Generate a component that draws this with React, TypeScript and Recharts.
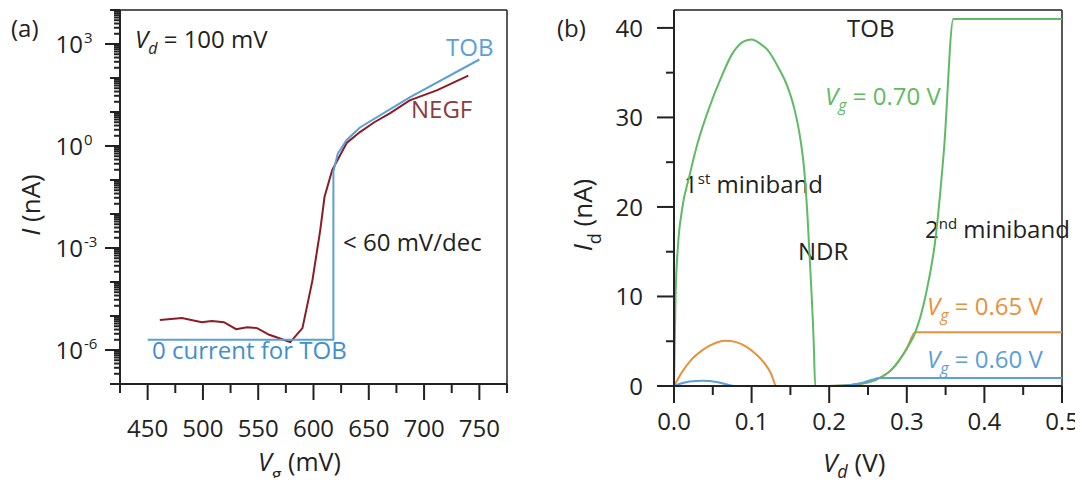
import React from 'react';
import { LineChart, Line, XAxis, YAxis, ReferenceLine } from 'recharts';

const FONT = '"Open Sans", "DejaVu Sans", sans-serif';
const INK = '#222222';
const TOB_BLUE = '#5aa0d8';
const NEGF_RED = '#8b1c24';
const GREEN = '#5fba64';
const ORANGE = '#e8913a';
const BLUE = '#5b9ed8';

// ── (a) transfer curve, log scale ────────────────────────────────
const VG_NEGF = [461, 481, 499, 508, 519, 530, 540, 549, 560, 571, 579, 590, 599, 606, 610, 617, 630, 642, 655, 669, 687, 712, 740];
const I_NEGF = [7.6e-6, 8.7e-6, 6.6e-6, 7.1e-6, 6.6e-6, 4.1e-6, 4.7e-6, 4.4e-6, 2.8e-6, 2.1e-6, 1.7e-6, 4.4e-6, 1.1e-4, 3.2e-3, 3.2e-2, 0.2, 1.23, 2.57, 5, 9.1, 22, 44, 117];

const VG_TOB = [450, 618, 618, 622, 630, 642, 687, 750];
const I_TOB = [2e-6, 2e-6, 0.18, 0.6, 1.5, 3.5, 27, 350];

const VG_DOMAIN = [425, 775];
const I_DOMAIN = [1e-7, 1e4];
const VG_TICKS = [425, 450, 475, 500, 525, 550, 575, 600, 625, 650, 675, 700, 725, 750, 775];
const VG_LABELS = [450, 500, 550, 600, 650, 700, 750];
const DECADES = [-7, -6, -5, -4, -3, -2, -1, 0, 1, 2, 3];
const MINOR_MULT = [1, 2, 3, 4, 5, 6, 7, 8, 9];
const LABELLED_EXP = [3, 0, -3, -6];

// ── (b) output curves ────────────────────────────────────────────
const VD_070 = [0, 0.002, 0.005, 0.01, 0.02, 0.03, 0.045, 0.06, 0.075, 0.09, 0.1, 0.11, 0.12, 0.135, 0.146, 0.155, 0.163, 0.168, 0.172, 0.176, 0.18, 0.182, 0.2, 0.22, 0.24, 0.26, 0.28, 0.3, 0.311, 0.324, 0.337, 0.348, 0.36, 0.5];
const I_070 = [0, 10, 15.5, 19.5, 23.5, 27, 31, 34.3, 37.1, 38.5, 38.7, 38.3, 37.6, 35.5, 33.5, 31, 27.5, 24, 19, 12.5, 5, 0, 0, 0.05, 0.25, 0.7, 1.8, 4.2, 6, 10, 16.5, 26.5, 41, 41];

const VD_065 = [0, 0.01, 0.023, 0.035, 0.046, 0.066, 0.08, 0.093, 0.105, 0.116, 0.125, 0.132, 0.2, 0.22, 0.24, 0.26, 0.28, 0.3, 0.311, 0.5];
const I_065 = [0, 1.5, 3.0, 3.9, 4.5, 5.05, 4.9, 4.4, 3.6, 2.6, 1.4, 0, 0, 0.05, 0.25, 0.7, 1.8, 4.2, 6, 6];

const VD_060 = [0, 0.01, 0.02, 0.037, 0.055, 0.067, 0.078, 0.2, 0.218, 0.24, 0.255, 0.265, 0.5];
const I_060 = [0, 0.3, 0.5, 0.6, 0.45, 0.2, 0, 0, 0.02, 0.3, 0.7, 0.9, 0.9];

const VD_DOMAIN = [0, 0.5];
const ID_DOMAIN = [0, 42];
const VD_TICKS = [0, 0.05, 0.1, 0.15, 0.2, 0.25, 0.3, 0.35, 0.4, 0.45, 0.5];
const VD_LABELS = [0, 0.1, 0.2, 0.3, 0.4, 0.5];
const ID_TICKS = [0, 5, 10, 15, 20, 25, 30, 35, 40];

const zipA = (xs: number[], ys: number[]) => xs.map((vg, i) => ({ vg, i: ys[i] }));
const zipB = (xs: number[], ys: number[]) => xs.map((vd, i) => ({ vd, i: ys[i] }));

const negfData = zipA(VG_NEGF, I_NEGF);
const tobData = zipA(VG_TOB, I_TOB);
const logTicks = DECADES.flatMap(e => MINOR_MULT.map(m => m * Math.pow(10, e))).concat([1e4]);

const g070 = zipB(VD_070, I_070);
const g065 = zipB(VD_065, I_065);
const g060 = zipB(VD_060, I_060);

const near = (a: number, b: number) => Math.abs(a - b) < 1e-9;

function LogTick(props: any) {
  const x = Number(props.x);
  const y = Number(props.y);
  const v = props.payload.value;
  const e = Math.round(Math.log10(v));
  const decade = Math.abs(v / Math.pow(10, e) - 1) < 1e-6;
  const labelled = decade && LABELLED_EXP.includes(e);
  const len = labelled ? 15 : decade ? 10 : 6;
  return (
    <g>
      <rect x={x - len} y={y - 1} width={len} height={2} fill={INK} />
      {labelled && (
        <text x={x - 37} y={y + 9} textAnchor="end" fontSize={24} fill={INK} fontFamily={FONT}>
          10
        </text>
      )}
      {labelled && (
        <text x={x - 36} y={y - 1} textAnchor="start" fontSize={15} fill={INK} fontFamily={FONT}>
          {e}
        </text>
      )}
    </g>
  );
}

function VgTick(props: any) {
  const x = Number(props.x);
  const y = Number(props.y);
  const v = props.payload.value;
  const len = v % 50 === 0 ? 16 : 9;
  return (
    <g>
      <rect x={x - 1} y={y} width={2} height={len} fill={INK} />
      {VG_LABELS.includes(v) && (
        <text x={x} y={y + 53} textAnchor="middle" fontSize={24} fill={INK} fontFamily={FONT}>
          {v}
        </text>
      )}
    </g>
  );
}

function IdTick(props: any) {
  const x = Number(props.x);
  const y = Number(props.y);
  const v = props.payload.value;
  const major = v % 10 === 0;
  const len = major ? 17 : 8;
  return (
    <g>
      <rect x={x - len} y={y - 1} width={len} height={2} fill={INK} />
      {major && (
        <text x={x - 31} y={y + 9} textAnchor="end" fontSize={24} fill={INK} fontFamily={FONT}>
          {v}
        </text>
      )}
    </g>
  );
}

function VdTick(props: any) {
  const x = Number(props.x);
  const y = Number(props.y);
  const v = props.payload.value;
  const major = VD_LABELS.some(t => near(t, v));
  return (
    <g>
      <rect x={x - 1} y={y} width={2} height={major ? 17 : 9} fill={INK} />
      {major && (
        <text x={x} y={y + 44} textAnchor="middle" fontSize={24} fill={INK} fontFamily={FONT}>
          {v.toFixed(1)}
        </text>
      )}
    </g>
  );
}

function PanelA() {
  return (
    <LineChart width={540} height={486} margin={{ top: 10, right: 33, bottom: 0, left: 0 }}>
      <XAxis
        dataKey="vg" type="number" domain={VG_DOMAIN} ticks={VG_TICKS} interval={0}
        allowDataOverflow height={102} tickLine={false} tickSize={0} tickMargin={0}
        tick={<VgTick />} axisLine={{ stroke: INK, strokeWidth: 2 }}
      />
      <YAxis
        scale="log" type="number" domain={I_DOMAIN} ticks={logTicks} interval={0}
        allowDataOverflow width={120} tickLine={false} tickSize={0} tickMargin={0}
        tick={<LogTick />} axisLine={{ stroke: INK, strokeWidth: 2 }}
      />
      <ReferenceLine x={VG_DOMAIN[1]} stroke={INK} strokeWidth={1.5} />
      <ReferenceLine y={I_DOMAIN[1]} stroke={INK} strokeWidth={1.5} />
      <Line data={negfData} dataKey="i" type="linear" stroke={NEGF_RED} strokeWidth={2} dot={false} isAnimationActive={false} />
      <Line data={tobData} dataKey="i" type="linear" stroke={TOB_BLUE} strokeWidth={2} dot={false} isAnimationActive={false} />
    </LineChart>
  );
}

function PanelB() {
  return (
    <LineChart width={543} height={486} margin={{ top: 10, right: 21, bottom: 0, left: 0 }}>
      <XAxis
        dataKey="vd" type="number" domain={VD_DOMAIN} ticks={VD_TICKS} interval={0}
        allowDataOverflow height={100} tickLine={false} tickSize={0} tickMargin={0}
        tick={<VdTick />} axisLine={{ stroke: INK, strokeWidth: 2 }}
      />
      <YAxis
        type="number" domain={ID_DOMAIN} ticks={ID_TICKS} interval={0}
        allowDataOverflow width={134} tickLine={false} tickSize={0} tickMargin={0}
        tick={<IdTick />} axisLine={{ stroke: INK, strokeWidth: 2 }}
      />
      <ReferenceLine x={VD_DOMAIN[1]} stroke={INK} strokeWidth={1.5} />
      <ReferenceLine y={ID_DOMAIN[1]} stroke={INK} strokeWidth={1.5} />
      <Line data={g065} dataKey="i" type="monotone" stroke={ORANGE} strokeWidth={2} dot={false} isAnimationActive={false} />
      <Line data={g070} dataKey="i" type="monotone" stroke={GREEN} strokeWidth={2} dot={false} isAnimationActive={false} />
      <Line data={g060} dataKey="i" type="monotone" stroke={BLUE} strokeWidth={2} dot={false} isAnimationActive={false} />
    </LineChart>
  );
}

function Annotations() {
  const t = { fontFamily: FONT, fontSize: 24, fill: INK };
  return (
    <svg width={1083} height={486} style={{ position: 'absolute', left: 0, top: 0 }}>
      {/* panel (a) */}
      <text x={11} y={37} {...t}>(a)</text>
      <text x={135} y={48} {...t}>
        <tspan fontStyle="italic">V</tspan>
        <tspan fontStyle="italic" fontSize={16} dy={6}>d</tspan>
        <tspan dy={-6}> = 100 mV</tspan>
      </text>
      <text x={446} y={56} {...t} fill={TOB_BLUE}>TOB</text>
      <text x={411} y={118} {...t} fill="#8e3a40">NEGF</text>
      <text x={343} y={251} {...t}>&lt; 60 mV/dec</text>
      <text x={152} y={359} {...t} fill="#3f8fd0">0 current for TOB</text>
      <text x={258} y={471} {...t} fontSize={25}>
        <tspan fontStyle="italic">V</tspan>
        <tspan fontSize={18} dy={10}>g</tspan>
        <tspan dy={-10}> (mV)</tspan>
      </text>
      <text transform="rotate(-90 40 205)" x={40} y={205} textAnchor="middle" {...t} fontSize={26}>
        <tspan fontStyle="italic">I</tspan>
        <tspan> (nA)</tspan>
      </text>

      {/* panel (b) */}
      <text x={557} y={37} {...t}>(b)</text>
      <text x={847} y={37} {...t}>TOB</text>
      <text x={825} y={105} {...t} fill={GREEN}>
        <tspan fontStyle="italic">V</tspan>
        <tspan fontStyle="italic" fontSize={16} dy={6}>g</tspan>
        <tspan dy={-6}> = 0.70 V</tspan>
      </text>
      <text x={684} y={193} {...t}>
        <tspan>1</tspan>
        <tspan fontSize={15} dy={-9}>st</tspan>
        <tspan dy={9}> miniband</tspan>
      </text>
      <text x={798} y={260} {...t}>NDR</text>
      <text x={925} y={238} {...t}>
        <tspan>2</tspan>
        <tspan fontSize={15} dy={-9}>nd</tspan>
        <tspan dy={9}> miniband</tspan>
      </text>
      <text x={927} y={315} {...t} fill={ORANGE}>
        <tspan fontStyle="italic">V</tspan>
        <tspan fontStyle="italic" fontSize={16} dy={6}>g</tspan>
        <tspan dy={-6}> = 0.65 V</tspan>
      </text>
      <text x={927} y={368} {...t} fill={BLUE}>
        <tspan fontStyle="italic">V</tspan>
        <tspan fontStyle="italic" fontSize={16} dy={6}>g</tspan>
        <tspan dy={-6}> = 0.60 V</tspan>
      </text>
      <text x={823} y={472} {...t} fontSize={26}>
        <tspan fontStyle="italic">V</tspan>
        <tspan fontStyle="italic" fontSize={18} dy={6}>d</tspan>
        <tspan dy={-6}> (V)</tspan>
      </text>
      <text transform="rotate(-90 592 215)" x={592} y={215} textAnchor="middle" {...t} fontSize={26}>
        <tspan fontStyle="italic">I</tspan>
        <tspan fontSize={18} dy={9}>d</tspan>
        <tspan dy={-9}> (nA)</tspan>
      </text>
    </svg>
  );
}

// charts sit in normal flow; the page's 8px body margin is cancelled out
export default function App() {
  return (
    <div style={{ position: 'relative', margin: -8, width: 1083, height: 486, display: 'flex', background: '#fff' }}>
      <Annotations />
      <div style={{ width: 540 }}>
        <PanelA />
      </div>
      <div style={{ width: 543 }}>
        <PanelB />
      </div>
    </div>
  );
}
